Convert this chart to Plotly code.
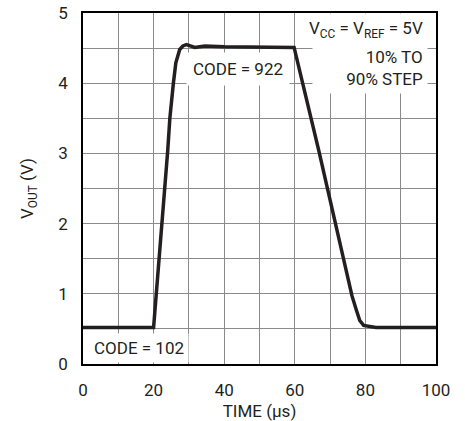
import plotly.graph_objects as go

# Data
time_us = [0, 20, 24.0, 24.6, 25.6, 26.3, 27.4, 28.3, 29.3, 30.5, 31.7, 33.0, 34.6,
           40, 50, 59.8, 66.8, 73.7, 76.2, 77.5, 78.4, 79.5, 81.4, 83, 90, 100]
vout = [0.52, 0.52, 3.04, 3.5, 4.0, 4.29, 4.48, 4.53, 4.55, 4.53, 4.51, 4.52, 4.53,
        4.52, 4.52, 4.51, 3.04, 1.48, 0.97, 0.76, 0.62, 0.55, 0.53, 0.52, 0.52, 0.52]

x_ticks = [0, 20, 40, 60, 80, 100]
y_ticks = [0, 1, 2, 3, 4, 5]

FONT = "Roboto, Liberation Sans, sans-serif"
INK = "#231f20"
GRID = "#8a8a8a"

fig = go.Figure()
fig.add_trace(go.Scatter(x=time_us, y=vout, mode="lines",
                         line=dict(color=INK, width=3.5),
                         showlegend=False, hoverinfo="skip"))

axis_common = dict(
    showline=True, linecolor="black", linewidth=1.5, mirror=True,
    showgrid=True, gridcolor=GRID, gridwidth=1.2,
    zeroline=False, ticks="", automargin=False,
    tickfont=dict(family=FONT, size=17, color=INK),
)

fig.update_xaxes(range=[0, 100], tickvals=x_ticks,
                 minor=dict(dtick=10, showgrid=True, gridcolor=GRID, gridwidth=1.2),
                 ticklabelstandoff=10,
                 title=dict(text="TIME (µs)", font=dict(family=FONT, size=17, color=INK), standoff=9),
                 **axis_common)
fig.update_yaxes(range=[0, 5], tickvals=y_ticks,
                 minor=dict(dtick=0.5, showgrid=True, gridcolor=GRID, gridwidth=1.2),
                 ticklabelstandoff=10,
                 title=dict(text="V<sub>OUT</sub> (V)", font=dict(family=FONT, size=17, color=INK), standoff=20),
                 **axis_common)

ann_font = dict(family=FONT, size=17, color=INK)
fig.add_annotation(x=43.9, y=4.2, text="CODE = 922", showarrow=False,
                   font=ann_font, bgcolor="white", borderpad=6)
fig.add_annotation(x=15.8, y=0.23, text="CODE = 102", showarrow=False,
                   font=ann_font, bgcolor="white", borderpad=4)
# condition block: first line with its own knockout, then two right-aligned lines
fig.add_annotation(x=97.6, y=4.76, xanchor="right", yanchor="middle", align="right",
                   text="V<sub>CC</sub> = V<sub>REF</sub> = 5V",
                   showarrow=False, font=ann_font, bgcolor="white", borderpad=4)
fig.add_annotation(x=97.6, y=4.22, xanchor="right", yanchor="middle", align="right",
                   text="10% TO<br>90% STEP", width=106,
                   showarrow=False, font=ann_font, bgcolor="white", borderpad=4)

fig.update_layout(
    width=465, height=421,
    margin=dict(l=83, r=29, t=13, b=57),
    paper_bgcolor="white", plot_bgcolor="white",
    font=dict(family=FONT, color=INK),
)

fig.write_html("out.html")
